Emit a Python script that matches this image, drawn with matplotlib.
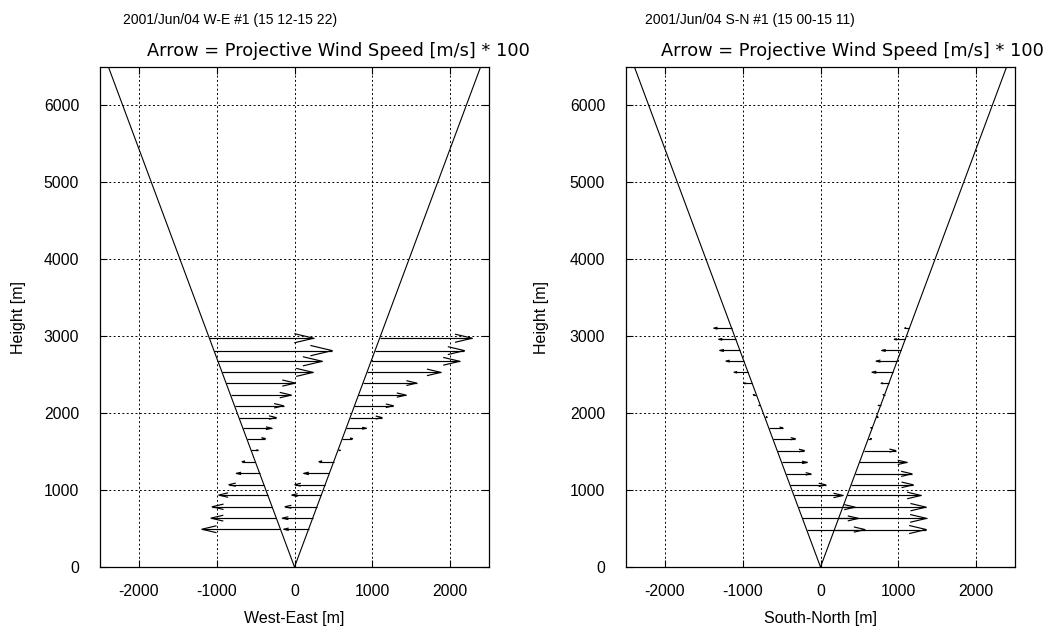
import numpy as np
import matplotlib
matplotlib.use("Agg")
import matplotlib.pyplot as plt

plt.rcParams['font.family'] = ['Liberation Sans', 'DejaVu Sans']
plt.rcParams['axes.unicode_minus'] = False

# ---------------- data ----------------
elev_deg = 69.8  # beam elevation angle (deg)

# Panel 1: West-East scan
we_title = "2001/Jun/04 W-E #1 (15 12-15 22)"
we_xlabel = "West-East [m]"
we_heights = [491, 635, 783, 935, 1070, 1217, 1370, 1517, 1670, 1804,
              1943, 2096, 2235, 2391, 2530, 2674, 2813, 2974]
# projective wind speed [m/s] on the west (left) beam
we_speed_west = [-10.1, -8.4, -7.7, -6.3, -4.5, -3.0, -1.7, 0.9, 2.4, 3.7,
                 4.8, 6.3, 7.8, 8.9, 11.7, 13.4, 15.2, 13.4]
# projective wind speed [m/s] on the east (right) beam
we_speed_east = [-3.2, -3.9, -4.1, -3.8, -3.9, -3.3, -1.9, 0.3, 1.3, 2.6,
                 4.1, 5.0, 6.1, 6.9, 9.5, 11.4, 11.5, 11.9]

# Panel 2: South-North scan
sn_title = "2001/Jun/04 S-N #1 (15 00-15 11)"
sn_xlabel = "South-North [m]"
sn_heights = [487, 632, 778, 930, 1068, 1211, 1360, 1514, 1668, 1810,
              1950, 2100, 2240, 2388, 2532, 2677, 2815, 2960, 3105]
sn_speed_south = [7.5, 7.2, 7.3, 6.3, 4.6, 3.2, 3.3, 3.5, 2.9, 1.8,
                  0.3, -0.2, -0.4, -1.1, -1.8, -2.3, -2.6, -2.2, -2.3]
sn_speed_north = [11.8, 11.3, 10.7, 9.5, 8.0, 7.3, 6.1, 4.1, 0.4, -0.2,
                  0.2, -0.3, -0.2, -1.0, -2.7, -2.7, -2.5, -1.4, -0.6]

arrow_scale = 100.0
subtitle = "Arrow = Projective Wind Speed [m/s] * 100"
xticks = [-2000, -1000, 0, 1000, 2000]
yticks = [0, 1000, 2000, 3000, 4000, 5000, 6000]
xlim = (-2500, 2500)
ylim = (0, 6500)

# ---------------- figure ----------------
W, H = 1058, 632
fig = plt.figure(figsize=(W / 100, H / 100), dpi=100)

def box(l, r, t, b):
    return [l / W, 1 - b / H, (r - l) / W, (b - t) / H]

cot = 1.0 / np.tan(np.radians(elev_deg))


def draw_arrows(ax, x0, y0, u, alpha=0.18, beta=0.24):
    x0 = np.asarray(x0, float)
    y0 = np.asarray(y0, float)
    u = np.asarray(u, float)
    xt = x0 + u
    for xs, ys, uu, xe in zip(x0, y0, u, xt):
        ax.plot([xs, xe], [ys, ys], color='black', lw=0.85, solid_capstyle='butt')
        hx = xe - alpha * uu
        hy = alpha * beta * abs(uu)
        ax.plot([hx, xe, hx], [ys + hy, ys, ys - hy], color='black', lw=0.85)


def panel(ax, heights, sp_left, sp_right, xlabel):
    h = np.asarray(heights, float)
    top = np.array([0.0, ylim[1]])
    ax.plot(-cot * top, top, color='black', lw=0.8)
    ax.plot(cot * top, top, color='black', lw=0.8)
    draw_arrows(ax, -cot * h, h, np.asarray(sp_left) * arrow_scale)
    draw_arrows(ax, cot * h, h, np.asarray(sp_right) * arrow_scale)
    ax.set_xlim(*xlim)
    ax.set_ylim(*ylim)
    ax.set_xticks(xticks)
    ax.set_yticks(yticks)
    ax.grid(True, color='black', linestyle=(0, (2, 2.5)), lw=0.7)
    ax.tick_params(direction='in', length=5, top=True, right=True,
                   labelsize=11.3, width=0.8)
    ax.tick_params(axis='y', pad=15)
    ax.tick_params(axis='x', pad=12)
    for s in ax.spines.values():
        s.set_linewidth(0.9)
    ax.set_xlabel(xlabel, fontsize=11.5)
    ax.set_ylabel("Height [m]", fontsize=11.5)
    ax.xaxis.set_label_coords(0.5, -0.088)


ax1 = fig.add_axes(box(100, 489, 67, 567))
panel(ax1, we_heights, we_speed_west, we_speed_east, we_xlabel)
ax1.yaxis.set_label_coords(-0.19, 0.5)

ax2 = fig.add_axes(box(626, 1015, 67, 567))
panel(ax2, sn_heights, sn_speed_south, sn_speed_north, sn_xlabel)
ax2.yaxis.set_label_coords(-0.198, 0.5)

fig.text(230 / W, 1 - 20 / H, we_title, ha='center', va='center', fontsize=10)
fig.text(750 / W, 1 - 20 / H, sn_title, ha='center', va='center', fontsize=10)
fig.text(147 / W, 1 - 56 / H, subtitle, ha='left', va='baseline', fontsize=12.8,
         family=['DejaVu Sans'])
fig.text(661 / W, 1 - 56 / H, subtitle, ha='left', va='baseline', fontsize=12.8,
         family=['DejaVu Sans'])

fig.savefig("out.png", dpi=100)
